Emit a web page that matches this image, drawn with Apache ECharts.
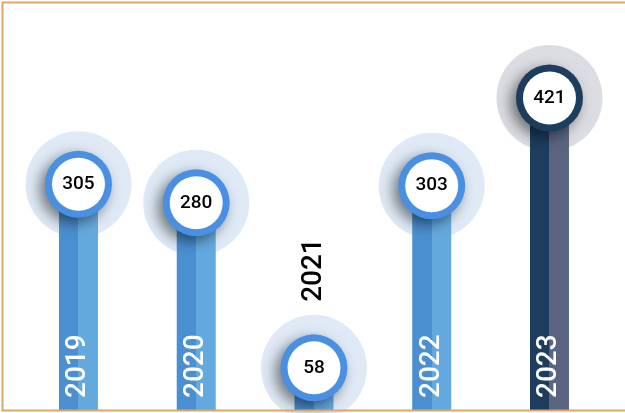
<!DOCTYPE html>
<html>
<head>
<meta charset="utf-8">
<script src="https://cdn.jsdelivr.net/npm/echarts@6/dist/echarts.min.js"></script>
<style>
html,body{margin:0;padding:0;background:#fff;}
#chart{width:625px;height:413px;}
</style>
</head>
<body>
<div id="chart"></div>
<script>
var categories = ['2019', '2020', '2021', '2022', '2023'];
var values = [305, 280, 58, 303, 421];

var normal = { left: '#4a8fd0', right: '#64a9de', ring: '#4a90e2', halo: '#dfeaf6' };
var highlight = { left: '#1c3d5d', right: '#5a6481', ring: '#1c3d5d', halo: '#dcdde3' };
function pal(i) { return i === values.length - 1 ? highlight : normal; }

var barData = values.map(function (v, i) {
  var p = pal(i);
  var item = {
    value: v,
    itemStyle: {
      color: new echarts.graphic.LinearGradient(0, 0, 1, 0, [
        { offset: 0, color: p.left }, { offset: 0.5, color: p.left },
        { offset: 0.5, color: p.right }, { offset: 1, color: p.right }
      ])
    }
  };
  if (v < 100) {
    item.label = { position: 'top', distance: 66, color: '#000' };
  }
  return item;
});

var haloData = values.map(function (v, i) {
  return { value: v, itemStyle: { color: pal(i).halo } };
});
var ringData = values.map(function (v, i) {
  return { value: v, itemStyle: { color: pal(i).ring } };
});

var chart = echarts.init(document.getElementById('chart'));
chart.setOption({
  animation: false,
  grid: { left: 19.6, width: 588.75, top: 2, bottom: 2 },
  xAxis: { type: 'category', data: categories, show: false },
  yAxis: { type: 'value', min: 0, max: 550, show: false },
  textStyle: { fontFamily: 'Roboto' },
  series: [
    {
      type: 'scatter', z: 1, silent: true,
      symbolSize: 106,
      itemStyle: { opacity: 1 },
      data: haloData
    },
    {
      type: 'bar', z: 2,
      barWidth: 39,
      data: barData,
      label: {
        show: true,
        formatter: '{b}',
        position: 'insideBottom',
        distance: 13,
        rotate: 90,
        align: 'left',
        verticalAlign: 'middle',
        color: '#fff',
        fontSize: 28,
        fontWeight: 500,
        fontFamily: 'Roboto'
      }
    },
    {
      type: 'scatter', z: 3, silent: true,
      symbolSize: 67,
      data: ringData,
      itemStyle: {
        opacity: 1,
        shadowColor: 'rgba(0,0,0,0.5)',
        shadowBlur: 14,
        shadowOffsetX: -5,
        shadowOffsetY: 5
      }
    },
    {
      type: 'scatter', z: 4,
      symbolSize: 53,
      data: values,
      itemStyle: { color: '#fff', opacity: 1 },
      label: {
        show: true,
        position: 'inside',
        formatter: '{c}',
        color: '#000',
        fontSize: 19,
        fontWeight: 500,
        fontFamily: 'Roboto'
      }
    }
  ],
  graphic: [{
    type: 'rect', z: 100, silent: true,
    shape: { x: 2.5, y: 2.5, width: 700, height: 408 },
    style: { fill: 'none', stroke: '#d9a86c', lineWidth: 2 }
  }]
});
</script>
</body>
</html>
